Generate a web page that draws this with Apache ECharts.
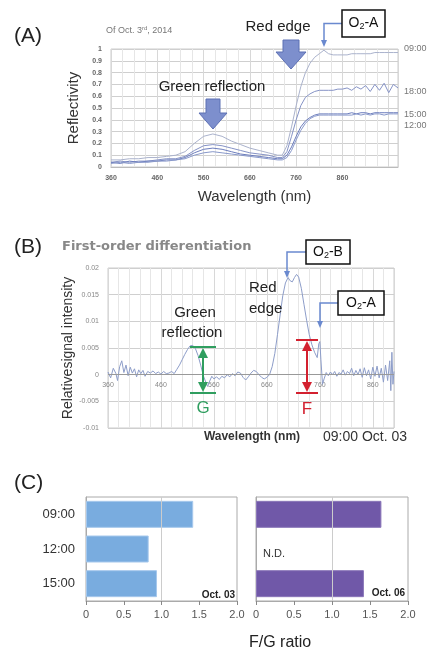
<!DOCTYPE html>
<html>
<head>
<meta charset="utf-8">
<script src="https://cdn.jsdelivr.net/npm/echarts@6/dist/echarts.min.js"></script>
<style>
html, body { margin: 0; padding: 0; background: #fff; }
#chart { width: 428px; height: 651px; }
</style>
</head>
<body>
<div id="chart"></div>
<script>
// (A) reflectivity spectra, Oct. 3rd
var wlA = [360,380,400,420,440,460,480,500,520,540,560,580,600,620,640,660,680,700,720,
    730,740,750,760,770,780,790,800,810,820,830,840,850,860,870,880,890,900,910,920,930,940,950,960,970,980];
var r0900 = [0.06,0.06,0.07,0.07,0.08,0.08,0.09,0.1,0.13,0.2,0.26,0.28,0.26,0.22,0.19,0.16,0.14,0.12,0.1,
    0.1,0.18,0.34,0.52,0.68,0.8,0.88,0.93,0.96,0.99,0.96,0.95,0.95,0.95,0.95,0.96,0.96,0.96,0.96,0.96,0.97,0.97,0.97,0.97,0.97,0.97];
var r1800 = [0.04,0.05,0.04,0.05,0.05,0.06,0.07,0.07,0.09,0.14,0.18,0.19,0.18,0.16,0.14,0.12,0.11,0.1,0.08,
    0.08,0.13,0.26,0.4,0.52,0.59,0.62,0.64,0.65,0.65,0.65,0.65,0.66,0.66,0.67,0.65,0.68,0.66,0.69,0.64,0.7,0.65,0.71,0.63,0.7,0.67];
var r1500 = [0.04,0.03,0.05,0.04,0.05,0.05,0.06,0.06,0.08,0.12,0.15,0.16,0.15,0.13,0.11,0.1,0.09,0.08,0.07,
    0.07,0.1,0.17,0.26,0.34,0.39,0.42,0.44,0.45,0.45,0.45,0.45,0.45,0.45,0.45,0.46,0.45,0.46,0.46,0.45,0.46,0.46,0.46,0.46,0.46,0.46];
var r1200 = [0.03,0.04,0.03,0.04,0.04,0.05,0.05,0.06,0.07,0.1,0.12,0.13,0.12,0.11,0.1,0.09,0.08,0.07,0.06,
    0.06,0.08,0.14,0.23,0.31,0.37,0.41,0.43,0.44,0.44,0.44,0.44,0.44,0.44,0.44,0.44,0.45,0.44,0.45,0.44,0.45,0.45,0.44,0.45,0.45,0.45];

// (B) first-order derivative, 09:00 Oct. 03
var wlB = [360,365,370,375,378,382,386,390,394,398,402,406,410,414,418,422,426,430,435,440,445,450,455,460,465,470,475,480,485,490,
    495,500,505,510,515,520,525,530,535,540,545,548,552,556,560,565,570,575,580,585,590,595,600,605,610,615,620,625,630,635,
    640,645,650,655,660,665,670,675,680,685,690,695,700,704,708,712,716,720,725,730,735,740,745,750,755,758,760,762,765,768,
    772,776,780,784,788,792,796,800,804,808,812,816,820,824,828,832,836,840,844,848,852,856,860,864,868,872,876,880,884,888,
    892,894,896,898,900];
var dB = [0.0005,-0.0006,0.0012,0.0002,-0.0011,0.0015,0.0026,0.0004,0.0018,-0.0002,0.0014,0.0003,0.0011,-0.0004,0.0009,0.0002,0.0008,-0.0003,0.0006,0.0003,
    0.0007,0.0002,0.0005,0.0001,0.0006,0.0002,0.0003,0.0006,0.0002,0.001,
    0.0018,0.0028,0.0038,0.0047,0.0054,0.0055,0.0049,0.0036,0.0018,-0.0002,-0.0015,-0.0022,-0.0012,-0.0003,-0.0008,-0.0004,-0.0009,-0.0003,-0.0006,0.0,
    -0.0004,0.0002,-0.0002,0.0005,0.0003,-0.0005,-0.001,-0.0004,0.0003,0.0008,
    0.0006,0.0,-0.0005,-0.0008,-0.0005,0.0,0.0015,0.004,0.0075,0.0112,0.0148,0.0172,0.0182,0.0176,0.0174,0.0182,0.0188,0.0183,0.0162,0.0132,
    0.0102,0.0075,0.0056,0.0042,0.0032,0.0058,0.0062,0.0028,-0.0018,-0.0008,
    0.0004,-0.0002,0.0005,0.0,0.0006,-0.0003,0.0004,0.0001,0.0009,-0.0001,0.0006,0.0002,0.0012,-0.0002,0.0008,0.0,0.0011,-0.0005,0.0013,-0.0002,
    0.0009,-0.0008,0.0014,-0.0003,0.0016,-0.0006,0.0012,-0.0014,0.0018,-0.0011,
    0.0026,-0.003,0.0042,-0.0018,0.0006];

// (C) F/G ratio
var times = ['09:00', '12:00', '15:00'];
var fgOct03 = [1.42, 0.83, 0.94];
var fgOct06 = [1.65, '-', 1.42]; // 12:00 N.D.

var FONT = '"Liberation Sans", Arial, sans-serif';

function pairs(xs, ys) {
    return xs.map(function (x, i) { return [x, ys[i]]; });
}

function txt(x, y, s, size, opt) {
    opt = opt || {};
    return {
        type: 'text', x: x, y: y, z: 100, silent: true,
        style: {
            text: s, fontSize: size, fontFamily: opt.family || FONT,
            fontWeight: opt.bold ? 'bold' : 'normal',
            fill: opt.color || '#222',
            textAlign: opt.align || 'left', textVerticalAlign: 'middle',
            rich: opt.rich
        }
    };
}

function blockArrow(cx, top, shaftW, headW, headTop, tip) {
    return {
        type: 'polygon', z: 90, silent: true,
        shape: { points: [[cx - shaftW / 2, top], [cx + shaftW / 2, top], [cx + shaftW / 2, headTop], [cx + headW / 2, headTop],
            [cx, tip], [cx - headW / 2, headTop], [cx - shaftW / 2, headTop]] },
        style: { fill: '#7d8fcd', stroke: '#5d70b4', lineWidth: 1 }
    };
}

var subRich = {
    n: { fontSize: 14, fontFamily: FONT, lineHeight: 16, fill: '#111' },
    s: { fontSize: 9, fontFamily: FONT, lineHeight: 8, verticalAlign: 'bottom', fill: '#111' }
};

function callout(bx, by, bw, bh, letter, ax, ay) {
    var ly = by + bh / 2;
    var c = '#6a89cf';
    return [
        { type: 'polyline', z: 95, silent: true, shape: { points: [[bx, ly], [ax, ly], [ax, ay - 5]] },
            style: { stroke: c, lineWidth: 1.5, fill: null } },
        { type: 'polygon', z: 95, silent: true, shape: { points: [[ax - 3, ay - 7], [ax + 3, ay - 7], [ax, ay]] },
            style: { fill: c } },
        { type: 'rect', z: 96, silent: true, shape: { x: bx, y: by, width: bw, height: bh },
            style: { fill: '#fff', stroke: '#111', lineWidth: 1.5 } },
        txt(bx + bw / 2, ly, '{n|O}{s|2}{n|-' + letter + '}', 14, { align: 'center', rich: subRich })
    ];
}

function dblArrow(x, y1, y2, w, color) {
    return [
        { type: 'line', z: 95, silent: true, shape: { x1: x - w / 2, y1: y1, x2: x + w / 2, y2: y1 }, style: { stroke: color, lineWidth: 2 } },
        { type: 'line', z: 95, silent: true, shape: { x1: x - w / 2, y1: y2, x2: x + w / 2, y2: y2 }, style: { stroke: color, lineWidth: 2 } },
        { type: 'line', z: 95, silent: true, shape: { x1: x, y1: y1 + 8, x2: x, y2: y2 - 8 }, style: { stroke: color, lineWidth: 2 } },
        { type: 'polygon', z: 95, silent: true, shape: { points: [[x, y1 + 1], [x - 5, y1 + 11], [x + 5, y1 + 11]] }, style: { fill: color } },
        { type: 'polygon', z: 95, silent: true, shape: { points: [[x, y2 - 1], [x - 5, y2 - 11], [x + 5, y2 - 11]] }, style: { fill: color } }
    ];
}

var graphics = [
    // (A)
    txt(14, 36, '(A)', 21),
    txt(106, 31, '{a|Of Oct. 3}{b|rd}{a|, 2014}', 9, { rich: {
        a: { fontSize: 9, fontFamily: FONT, fill: '#777', lineHeight: 11 },
        b: { fontSize: 6, fontFamily: FONT, fill: '#777', lineHeight: 6, verticalAlign: 'top' } } }),
    txt(212, 87, 'Green reflection', 15, { align: 'center' }),
    txt(278, 27, 'Red edge', 15, { align: 'center' }),
    blockArrow(213, 99, 14, 28, 113, 129),
    blockArrow(291, 40, 16, 30, 52, 69),
    txt(404, 49, '09:00', 9, { color: '#777' }),
    txt(404, 92, '18:00', 9, { color: '#777' }),
    txt(404, 115, '15:00', 9, { color: '#777' }),
    txt(404, 126, '12:00', 9, { color: '#777' }),
    // (B)
    txt(14, 247, '(B)', 21),
    txt(62, 247, 'First-order differentiation', 13, { bold: true, color: '#888', family: '"DejaVu Sans", sans-serif' }),
    txt(195, 313, 'Green', 15, { align: 'center' }),
    txt(192, 333, 'reflection', 15, { align: 'center' }),
    txt(249, 288, 'Red', 15),
    txt(249, 309, 'edge', 15),
    txt(203, 408, 'G', 17, { align: 'center', color: '#2f9e5f' }),
    txt(307, 409, 'F', 17, { align: 'center', color: '#d3202f' }),
    txt(252, 437, 'Wavelength (nm)', 12, { align: 'center', bold: true, color: '#333' }),
    txt(323, 437, '09:00 Oct. 03', 14, { color: '#333' }),
    // (C)
    txt(14, 483, '(C)', 21),
    txt(235, 595, 'Oct. 03', 10, { align: 'right', bold: true }),
    txt(405, 593, 'Oct. 06', 10, { align: 'right', bold: true }),
    txt(263, 554, 'N.D.', 11, { color: '#333' }),
    txt(249, 643, 'F/G ratio', 16)
];
graphics = graphics
    .concat(callout(342, 10, 43, 27, 'A', 324, 47))
    .concat(callout(306, 240, 44, 24, 'B', 287, 278))
    .concat(callout(338, 291, 46, 24, 'A', 320, 328))
    .concat(dblArrow(203, 347, 393, 26, '#2f9e5f'))
    .concat(dblArrow(307, 340, 393, 22, '#d3202f'));

var tickFont = { fontSize: 7, color: '#666', fontWeight: 'bold', fontFamily: FONT };

function lineSeries(name, xs, ys, color, xi) {
    return {
        type: 'line', name: name, xAxisIndex: xi, yAxisIndex: xi,
        data: pairs(xs, ys), showSymbol: false, silent: true,
        lineStyle: { width: 1, color: color }, itemStyle: { color: color }
    };
}

function ratioAxis(idx) {
    return {
        type: 'value', gridIndex: idx, min: 0, max: 2, interval: 0.5,
        axisLine: { show: true, lineStyle: { color: '#aaa' } },
        axisTick: { show: true, length: 4, lineStyle: { color: '#888' } },
        axisLabel: { fontSize: 11, color: '#555', fontFamily: FONT, margin: 8,
            formatter: function (v) { return v === 0 ? '0' : v.toFixed(1); } },
        splitLine: { show: false }
    };
}

function barSeries(idx, data, color, border) {
    return {
        type: 'bar', xAxisIndex: idx, yAxisIndex: idx, data: data, barWidth: 27, silent: true,
        itemStyle: { color: color, borderColor: border, borderWidth: 1 },
        markLine: { silent: true, symbol: 'none', label: { show: false },
            lineStyle: { color: '#ccc', type: 'solid', width: 1 }, data: [{ xAxis: 1 }] }
    };
}

var derivSeries = lineSeries('09:00 Oct. 03', wlB, dB, '#8d9dc9', 1);
// darker zero line of panel B
derivSeries.markLine = { silent: true, symbol: 'none', label: { show: false },
    lineStyle: { color: '#999', type: 'solid', width: 1 }, data: [{ yAxis: 0 }] };

var myChart = echarts.init(document.getElementById('chart'));
myChart.setOption({
    animation: false,
    backgroundColor: '#fff',
    grid: [
        { left: 111, top: 49, width: 287, height: 118, show: true, borderColor: '#ccc', borderWidth: 1 },
        { left: 108, top: 268, width: 286, height: 160, show: true, borderColor: '#ccc', borderWidth: 1 },
        { left: 86, top: 497, width: 151, height: 104, show: true, borderColor: '#aaa', borderWidth: 1 },
        { left: 256, top: 497, width: 152, height: 104, show: true, borderColor: '#aaa', borderWidth: 1 }
    ],
    xAxis: [
        {
            type: 'value', gridIndex: 0, min: 360, max: 980, interval: 100,
            name: 'Wavelength (nm)', nameLocation: 'middle', nameGap: 22, nameMoveOverlap: false,
            nameTextStyle: { fontSize: 15, color: '#333', fontFamily: FONT },
            axisLine: { show: true, lineStyle: { color: '#bbb' } },
            axisTick: { show: false },
            axisLabel: Object.assign({ margin: 8, formatter: function (v) { return v > 900 ? '' : String(v); } }, tickFont),
            splitLine: { show: true, lineStyle: { color: '#d8d8d8' } },
            minorTick: { show: false, splitNumber: 4 },
            minorSplitLine: { show: true, lineStyle: { color: '#e6e6e6' } }
        },
        {
            // tick labels sit just under the zero line
            type: 'value', gridIndex: 1, min: 360, max: 900, interval: 100,
            axisLine: { show: false, onZero: false },
            axisTick: { show: false },
            axisLabel: Object.assign({ margin: -46, formatter: function (v) { return v >= 900 ? '' : String(v); } }, tickFont, { fontWeight: 'normal', color: '#888' }),
            splitLine: { show: true, lineStyle: { color: '#d8d8d8' } },
            minorTick: { show: false, splitNumber: 5 },
            minorSplitLine: { show: true, lineStyle: { color: '#e6e6e6' } }
        },
        ratioAxis(2),
        ratioAxis(3)
    ],
    yAxis: [
        {
            type: 'value', gridIndex: 0, min: 0, max: 1, interval: 0.1,
            name: 'Reflectivity', nameLocation: 'middle', nameGap: 30, nameMoveOverlap: false,
            nameTextStyle: { fontSize: 15, color: '#333', fontFamily: FONT },
            axisLine: { show: false }, axisTick: { show: false },
            axisLabel: Object.assign({ margin: 9 }, tickFont),
            splitLine: { show: true, lineStyle: { color: '#cfcfcf' } }
        },
        {
            type: 'value', gridIndex: 1, min: -0.01, max: 0.02, interval: 0.005,
            name: 'Relativesignal intensity', nameLocation: 'middle', nameGap: 33, nameMoveOverlap: false,
            nameTextStyle: { fontSize: 14, color: '#333', fontFamily: FONT },
            axisLine: { show: false }, axisTick: { show: false },
            axisLabel: Object.assign({ margin: 9 }, tickFont, { fontWeight: 'normal', color: '#888' }),
            splitLine: { show: true, lineStyle: { color: '#cfcfcf' } }
        },
        {
            type: 'category', gridIndex: 2, data: times, inverse: true,
            axisLine: { show: true, lineStyle: { color: '#aaa' } }, axisTick: { show: false },
            axisLabel: { fontSize: 13, color: '#333', fontFamily: FONT, margin: 11 }
        },
        {
            type: 'category', gridIndex: 3, data: times, inverse: true,
            axisLine: { show: true, lineStyle: { color: '#aaa' } }, axisTick: { show: false },
            axisLabel: { show: false }
        }
    ],
    series: [
        lineSeries('09:00', wlA, r0900, '#aab2cc', 0),
        lineSeries('18:00', wlA, r1800, '#8693c6', 0),
        lineSeries('15:00', wlA, r1500, '#6c7dbd', 0),
        lineSeries('12:00', wlA, r1200, '#8898ca', 0),
        derivSeries,
        barSeries(2, fgOct03, '#79acdf', '#a6c8ec'),
        barSeries(3, fgOct06, '#7058a8', '#8a76b8')
    ],
    graphic: { elements: graphics }
});
window.onresize = function () {
    myChart.resize();
};
</script>
</body>
</html>
